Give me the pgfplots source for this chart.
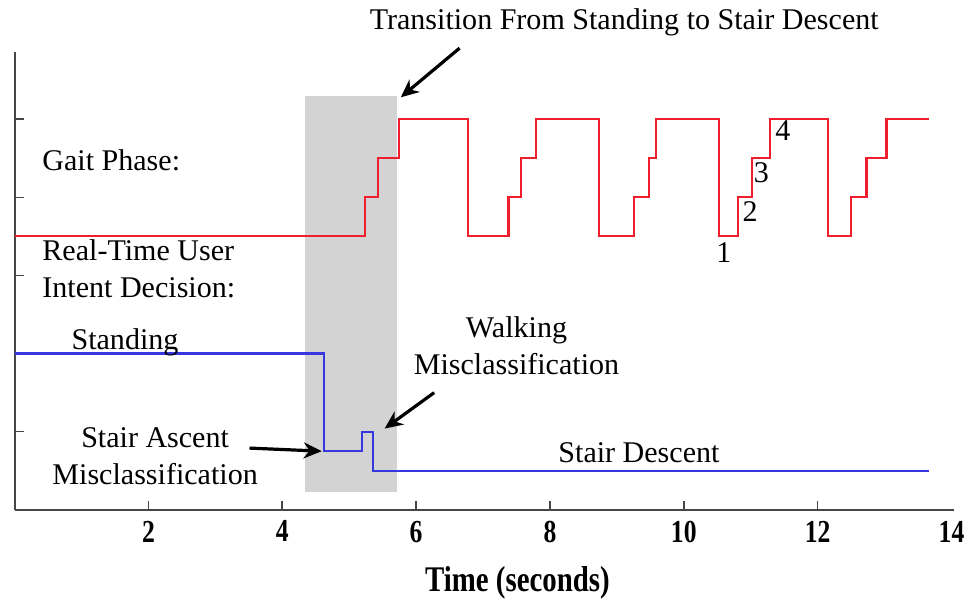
\documentclass[border=0pt]{standalone}
\usepackage{pgfplots}
\pgfplotsset{compat=1.18}
\usepackage{fontspec}
\setmainfont{Liberation Serif}
\newfontfamily\condserif[FakeStretch=0.8]{Liberation Serif}
\usetikzlibrary{arrows.meta}

\definecolor{phasered}{RGB}{238,30,45}
\definecolor{intentblue}{RGB}{55,55,225}
\definecolor{shade}{RGB}{211,211,211}
\definecolor{axisgray}{RGB}{70,70,70}

\begin{document}
\begin{tikzpicture}[
  ann/.style={font=\fontsize{15}{18.5}\selectfont, inner sep=0pt},
  callout/.style={-{Stealth[length=9pt,width=8pt]}, line width=1.6pt, black}]
\begin{axis}[
  scale only axis,
  width=469pt, height=228.5pt,
  xmin=0, xmax=14.04, ymin=0, ymax=5.86,
  axis x line=bottom, axis y line=left,
  axis line style={-, axisgray, line width=1pt},
  tick align=inside, major tick length=4.5pt,
  tick style={axisgray, line width=0.8pt},
  xtick={2,4,...,12},
  extra x ticks={14},
  extra x tick style={major tick length=0pt},
  ytick={1,2,3,4,5}, yticklabels={},
  /pgf/number format/assume math mode=true,
  xticklabel style={font=\condserif\bfseries\fontsize{16}{16}\selectfont, yshift=-2pt},
  xlabel={Time (seconds)},
  xlabel style={font=\condserif\bfseries\fontsize{18}{18}\selectfont, yshift=-5pt, xshift=16.5pt},
  clip=false,
]
% transition window
\addplot[fill=shade, draw=none] coordinates
  {(4.345,0.23) (5.71,0.23) (5.71,5.30) (4.345,5.30)} -- cycle;

% gait phase (levels 1-4 mapped to 3.5, 4, 4.5, 5)
\addplot[const plot, phasered, line width=1.1pt] coordinates {
  (0,3.5) (5.24,4) (5.43,4.5) (5.75,5)
  (6.78,3.5) (7.38,4) (7.57,4.5) (7.79,5)
  (8.73,3.5) (9.26,4) (9.48,4.5) (9.58,5)
  (10.52,3.5) (10.81,4) (11.02,4.5) (11.29,5)
  (12.16,3.5) (12.50,4) (12.73,4.5) (13.03,5) (13.67,5)};

% real-time intent decision
\addplot[const plot, intentblue, line width=1.1pt] coordinates {
  (0,2) (4.62,0.75) (5.19,1.0) (5.35,0.5) (13.67,0.5)};

% annotations
\node[ann] at (axis cs:9.11,6.24) {Transition From Standing to Stair Descent};
\draw[callout] (axis cs:6.65,5.91) -- (axis cs:5.77,5.28);
\node[ann, anchor=west] at (axis cs:0.41,4.47) {Gait Phase:};
\node[ann, anchor=west, align=left] at (axis cs:0.41,3.08) {Real-Time User\\Intent Decision:};
\node[ann] at (axis cs:1.65,2.14) {Standing};
\node[ann, align=center] at (axis cs:2.10,0.69) {Stair Ascent\\Misclassification};
\draw[callout] (axis cs:3.51,0.79) -- (axis cs:4.59,0.75);
\node[ann, align=center] at (axis cs:7.50,2.10) {Walking\\Misclassification};
\draw[callout] (axis cs:6.27,1.50) -- (axis cs:5.53,1.04);
\node[ann] at (axis cs:9.33,0.73) {Stair Descent};
\node[ann] at (axis cs:10.60,3.29) {1};
\node[ann] at (axis cs:10.99,3.82) {2};
\node[ann] at (axis cs:11.16,4.32) {3};
\node[ann] at (axis cs:11.48,4.85) {4};

% picture extent
\path (axis cs:-0.218,-1.205) rectangle (axis cs:14.27,6.526);
\end{axis}
\end{tikzpicture}
\end{document}
